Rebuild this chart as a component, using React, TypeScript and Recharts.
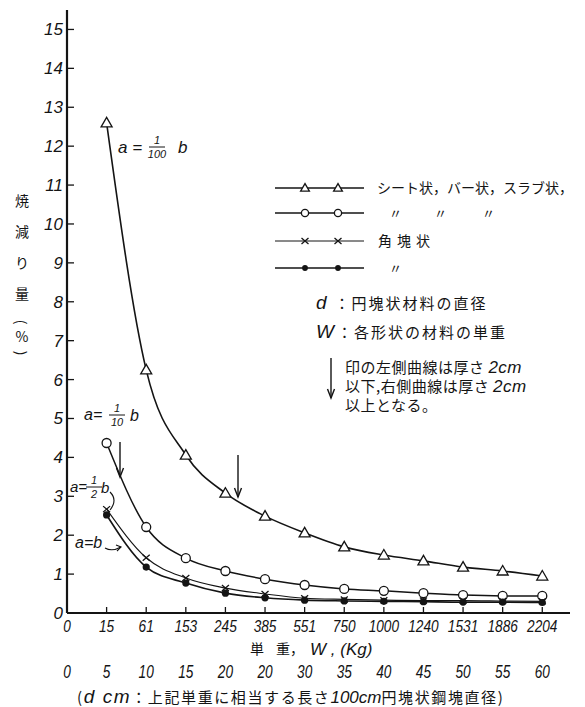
import React from "react";
import { LineChart, Line, XAxis, YAxis } from "recharts";

// 単重 W (Kg) on the first tick row, d cm on the second
const weights = ["0", "15", "61", "153", "245", "385", "551", "750", "1000", "1240", "1531", "1886", "2204"];
const diameters = ["0", "5", "10", "15", "20", "20", "30", "35", "40", "45", "50", "55", "60"];
const yTicks = [0, 1, 2, 3, 4, 5, 6, 7, 8, 9, 10, 11, 12, 13, 14, 15];

// 焼減り量 (%) per series, index 1..12 of weights
const sheetTri = [12.6, 6.25, 4.06, 3.08, 2.49, 2.06, 1.7, 1.49, 1.34, 1.18, 1.08, 0.95];
const sheetCircle = [4.37, 2.21, 1.41, 1.08, 0.87, 0.72, 0.62, 0.57, 0.51, 0.46, 0.44, 0.44];
const blockCross = [2.67, 1.42, 0.9, 0.64, 0.49, 0.38, 0.35, 0.33, 0.32, 0.32, 0.31, 0.3];
const blockDot = [2.52, 1.18, 0.77, 0.51, 0.39, 0.33, 0.31, 0.3, 0.29, 0.28, 0.28, 0.27];

const data = sheetTri.map((v, k) => ({
  i: k + 1,
  tri: v,
  circle: sheetCircle[k],
  cross: blockCross[k],
  dot: blockDot[k],
}));

const INK = "#141414";
const NUM_FONT = "'Liberation Sans', sans-serif";
const JP_FONT = "'Noto Sans CJK JP', sans-serif";

const Tri = ({ cx, cy, s = 1 }: any) => (
  <polygon
    points={`${cx},${cy - 5.5 * s} ${cx - 5.5 * s},${cy + 4 * s} ${cx + 5.5 * s},${cy + 4 * s}`}
    fill="#fff"
    stroke={INK}
    strokeWidth={1.3}
  />
);
const Ring = ({ cx, cy, s = 1 }: any) => <circle cx={cx} cy={cy} r={4.5 * s} fill="#fff" stroke={INK} strokeWidth={1.3} />;
const Cross = ({ cx, cy }: any) => (
  <path d={`M${cx - 3.5},${cy - 3} L${cx + 3.5},${cy + 3} M${cx - 3.5},${cy + 3} L${cx + 3.5},${cy - 3}`} stroke={INK} strokeWidth={1.3} />
);
const Dot = ({ cx, cy, s = 1 }: any) => <circle cx={cx} cy={cy} r={3.6 * s} fill={INK} />;

const dotOf = (Shape: any) => (p: any) =>
  p.cy == null ? <g key={p.index} /> : <Shape key={p.index} cx={p.cx} cy={p.cy} />;

// condensed italic numerals like the original print
const Num = ({ x, y, size, children }: any) => {
  const s = String(children);
  return (
    <text
      x={x}
      y={y}
      textAnchor="middle"
      fontSize={size}
      fontStyle="italic"
      fontFamily={NUM_FONT}
      fill={INK}
      textLength={s.length * 7.6}
      lengthAdjust="spacingAndGlyphs"
    >
      {s}
    </text>
  );
};

const XTick = ({ x, y, payload }: any) => {
  const i = payload.value;
  return (
    <g>
      {i > 0 && <line x1={x} x2={x} y1={y} y2={y - 6} stroke={INK} strokeWidth={1.3} />}
      <Num x={x} y={y + 19} size={17}>{weights[i]}</Num>
      <Num x={x} y={y + 65} size={18}>{diameters[i]}</Num>
    </g>
  );
};

const YTick = ({ x, y, payload }: any) => (
  <g>
    <line x1={x} x2={x + 7} y1={y} y2={y} stroke={INK} strokeWidth={1.3} />
    <text x={x - 4} y={y + 6} textAnchor="end" fontSize={17} fontStyle="italic" fontFamily={NUM_FONT} fill={INK}>
      {payload.value}
    </text>
  </g>
);

const legendRows = [
  { y: 188, shape: Tri, width: 1.6 },
  { y: 213, shape: Ring, width: 1.4 },
  { y: 241, shape: Cross, width: 1 },
  { y: 268, shape: Dot, width: 1.6 },
];

const Frac = ({ x, y, num, den }: any) => (
  <g fontStyle="italic" fontFamily={NUM_FONT} fill={INK}>
    <text x={x} y={y - 3} textAnchor="middle" fontSize={11}>{num}</text>
    <line x1={x - 8} x2={x + 8} y1={y} y2={y} stroke={INK} strokeWidth={1} />
    <text x={x} y={y + 11} textAnchor="middle" fontSize={11}>{den}</text>
  </g>
);

const Arrow = ({ x, y1, y2 }: any) => (
  <g stroke={INK} strokeWidth={1.4} fill="none">
    <line x1={x} x2={x} y1={y1} y2={y2} />
    <path d={`M${x - 3.5},${y2 - 9} L${x},${y2} L${x + 3.5},${y2 - 9}`} />
  </g>
);

function Overlay() {
  const italic = { fontStyle: "italic" as const, fontFamily: NUM_FONT, fill: INK };
  return (
    <svg width={585} height={707} style={{ position: "absolute", left: 0, top: 0, pointerEvents: "none" }}>
      {/* y axis title, vertical */}
      <g fontFamily={JP_FONT} fontSize={14} fill={INK} textAnchor="middle">
        <text x={22} y={206}>焼</text>
        <text x={22} y={237}>減</text>
        <text x={22} y={268}>り</text>
        <text x={22} y={299}>量</text>
        <text x={0} y={0} transform="translate(22,322) rotate(90)" textAnchor="middle" dominantBaseline="central">(</text>
        <text x={22} y={342}>%</text>
        <text x={0} y={0} transform="translate(22,353) rotate(90)" textAnchor="middle" dominantBaseline="central">)</text>
      </g>

      {/* curve labels */}
      <text x={118} y={153} fontSize={17} {...italic}>a =</text>
      <Frac x={157} y={147} num="1" den="100" />
      <text x={178} y={153} fontSize={17} {...italic}>b</text>

      <text x={84} y={420} fontSize={16} {...italic}>a=</text>
      <Frac x={117} y={415} num="1" den="10" />
      <text x={130} y={421} fontSize={16} {...italic}>b</text>

      <text x={70} y={492} fontSize={15} {...italic}>a=</text>
      <Frac x={94} y={487} num="1" den="2" />
      <text x={101} y={493} fontSize={15} {...italic}>b</text>
      <path d="M110,492 Q118,500 110,510" stroke={INK} strokeWidth={1.1} fill="none" />

      <text x={75} y={548} fontSize={16} {...italic}>a=b</text>
      <path d="M105,548 Q112,552 121,547" stroke={INK} strokeWidth={1.1} fill="none" />
      <path d="M116,545 L121,547 L117,551" stroke={INK} strokeWidth={1.1} fill="none" />

      <Arrow x={120} y1={442} y2={477} />
      <Arrow x={238} y1={455} y2={497} />

      {/* legend */}
      {legendRows.map((r, k) => {
        const S = r.shape;
        return (
          <g key={k}>
            <line x1={275} x2={364} y1={r.y} y2={r.y} stroke={INK} strokeWidth={r.width} />
            <S cx={305} cy={r.y} s={0.8} />
            <S cx={338} cy={r.y} s={0.8} />
          </g>
        );
      })}
      <g fontFamily={JP_FONT} fontSize={14} fill={INK}>
        <text x={377} y={193}>シート状，バー状，スラブ状，</text>
        <text x={389} y={218} fontSize={13}>〃</text>
        <text x={434} y={218} fontSize={13}>〃</text>
        <text x={482} y={218} fontSize={13}>〃</text>
        <text x={378} y={246} letterSpacing={5}>角塊状</text>
        <text x={389} y={273} fontSize={13}>〃</text>
        <g fontSize={15} letterSpacing={2}>
          <text x={316} y={309}>
            <tspan fontStyle="italic" fontFamily={NUM_FONT} fontSize={19}>d</tspan>
            <tspan dx={6}>：円塊状材料の直径</tspan>
          </text>
          <text x={316} y={338}>
            <tspan fontStyle="italic" fontFamily={NUM_FONT} fontSize={19}>W</tspan>
            <tspan dx={1}>：各形状の材料の単重</tspan>
          </text>
        </g>
        <g fontSize={15} letterSpacing={0.5}>
          <text x={345} y={373}>
            印の左側曲線は厚さ <tspan fontStyle="italic" fontFamily={NUM_FONT} fontSize={17}>2cm</tspan>
          </text>
          <text x={345} y={392}>
            以下,右側曲線は厚さ <tspan fontStyle="italic" fontFamily={NUM_FONT} fontSize={17}>2cm</tspan>
          </text>
          <text x={345} y={411}>以上となる。</text>
        </g>
      </g>
      <Arrow x={331} y1={358} y2={398} />

      {/* x axis titles */}
      <g fill={INK}>
        <text x={250} y={654} fontFamily={JP_FONT} fontSize={14}>単</text>
        <text x={276} y={654} fontFamily={JP_FONT} fontSize={14}>重，</text>
        <text x={310} y={655} fontSize={17} {...italic}>W ,  (Kg)</text>
        <text x={77} y={703} fontFamily={JP_FONT} fontSize={15} letterSpacing={1.6}>
          (<tspan fontStyle="italic" fontFamily={NUM_FONT} fontSize={19}>d cm</tspan>：上記単重に相当する長さ
          <tspan fontStyle="italic" fontFamily={NUM_FONT} fontSize={17} letterSpacing={0}>100cm</tspan>円塊状鋼塊直径)
        </text>
      </g>
    </svg>
  );
}

export default function App() {
  return (
    <div style={{ position: "absolute", left: 0, top: 0, width: 585, height: 707, background: "#fff" }}>
      <LineChart width={585} height={707} data={data} margin={{ top: 10, right: 15, bottom: 0, left: 7 }}>
        <XAxis
          type="number"
          dataKey="i"
          domain={[0, 12.7]}
          ticks={[0, 1, 2, 3, 4, 5, 6, 7, 8, 9, 10, 11, 12]}
          allowDataOverflow
          height={94}
          tickSize={0}
          tickMargin={0}
          tick={<XTick />}
          axisLine={{ stroke: INK, strokeWidth: 2 }}
        />
        <YAxis
          type="number"
          domain={[0, 15.5]}
          ticks={yTicks}
          allowDataOverflow
          width={60}
          tickSize={0}
          tickMargin={0}
          tick={<YTick />}
          axisLine={{ stroke: INK, strokeWidth: 2.2 }}
        />
        <Line type="monotone" dataKey="tri" stroke={INK} strokeWidth={1.6} dot={dotOf(Tri)} isAnimationActive={false} />
        <Line type="monotone" dataKey="circle" stroke={INK} strokeWidth={1.5} dot={dotOf(Ring)} isAnimationActive={false} />
        <Line type="monotone" dataKey="cross" stroke={INK} strokeWidth={1.1} dot={dotOf(Cross)} isAnimationActive={false} />
        <Line type="monotone" dataKey="dot" stroke={INK} strokeWidth={1.6} dot={dotOf(Dot)} isAnimationActive={false} />
      </LineChart>
      <Overlay />
    </div>
  );
}
